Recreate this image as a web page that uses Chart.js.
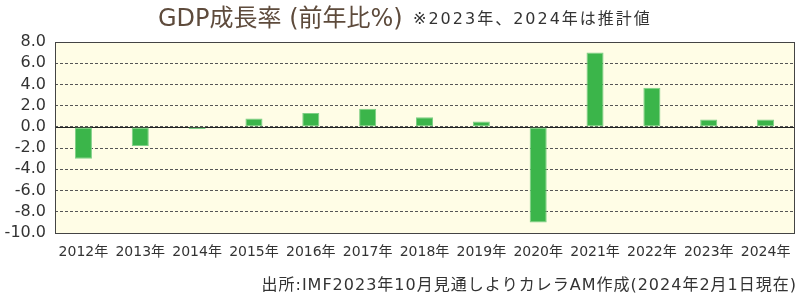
<!DOCTYPE html>
<html>
<head>
<meta charset="utf-8">
<script src="https://cdn.jsdelivr.net/npm/chart.js@4"></script>
<style>
  html, body { margin: 0; padding: 0; background: #fff; }
  #wrap { width: 800px; height: 298px; position: relative; }
</style>
</head>
<body>
<div id="wrap"><canvas id="gdpChart" width="800" height="298"></canvas></div>
<script>
// Data
const years = ['2012年', '2013年', '2014年', '2015年', '2016年', '2017年', '2018年',
               '2019年', '2020年', '2021年', '2022年', '2023年', '2024年'];
const growth = [-3.0, -1.8, -0.2, 0.8, 1.3, 1.7, 0.9, 0.5, -9.0, 7.0, 3.7, 0.7, 0.7];
const yMin = -10;
const yMax = 8;
const yStep = 2;

const titleText = 'GDP成長率 (前年比%)';
const noteText = '※2023年、2024年は推計値';
const sourceText = '出所:IMF2023年10月見通しよりカレラAM作成(2024年2月1日現在)';

// Latin glyphs from DejaVu (wide, like the original), kana/kanji from Noto CJK
const FONT = '"DejaVu Sans", "Noto Sans CJK JP", sans-serif';

// Background, zero line, frame and texts
const decorPlugin = {
    id: 'decor',
    beforeDraw(chart) {
        const { ctx, chartArea: a } = chart;
        ctx.save();
        ctx.fillStyle = '#fffde6';
        ctx.fillRect(a.left, a.top, a.right - a.left, a.bottom - a.top);
        ctx.restore();
    },
    beforeDatasetsDraw(chart) {
        const { ctx, chartArea: a } = chart;
        const y0 = chart.scales.y.getPixelForValue(0);
        ctx.save();
        ctx.strokeStyle = '#222';
        ctx.lineWidth = 1;
        ctx.beginPath();
        ctx.moveTo(a.left, Math.round(y0) + 0.5);
        ctx.lineTo(a.right, Math.round(y0) + 0.5);
        ctx.stroke();
        ctx.restore();
    },
    afterDraw(chart) {
        const { ctx, chartArea: a } = chart;
        ctx.save();
        ctx.strokeStyle = '#444';
        ctx.lineWidth = 1;
        ctx.strokeRect(Math.round(a.left) + 0.5, Math.round(a.top) + 0.5,
                       Math.round(a.right - a.left), Math.round(a.bottom - a.top));

        ctx.textBaseline = 'alphabetic';
        ctx.textAlign = 'left';
        ctx.fillStyle = '#5e4b3c';
        ctx.font = '24px ' + FONT;
        ctx.letterSpacing = '0px';
        ctx.fillText(titleText, 158, 26);
        ctx.fillStyle = '#333';
        ctx.font = '16px ' + FONT;
        ctx.letterSpacing = '2px';
        ctx.fillText(noteText, 413, 24);

        ctx.font = '16px ' + FONT;
        ctx.letterSpacing = '1px';
        const w = ctx.measureText(sourceText).width;
        ctx.fillText(sourceText, 797 - w, 290);
        ctx.restore();
    }
};

const ctx = document.getElementById('gdpChart').getContext('2d');
const gdpChart = new Chart(ctx, {
    type: 'bar',
    data: {
        labels: years,
        datasets: [{
            data: growth,
            backgroundColor: '#3bb54a',
            borderColor: '#7fcf85',
            borderWidth: 1,
            borderSkipped: false,
            barPercentage: 0.3,
            categoryPercentage: 1.0
        }]
    },
    options: {
        responsive: false,
        animation: false,
        layout: { padding: { top: 42, right: 6, left: 0, bottom: 0 } },
        plugins: {
            legend: { display: false },
            tooltip: { enabled: false }
        },
        scales: {
            x: {
                grid: { display: false },
                border: { display: false },
                ticks: {
                    color: '#333',
                    font: { family: FONT, size: 14 },
                    padding: 3,
                    maxRotation: 0,
                    autoSkip: false
                },
                afterFit(scale) { scale.height = 65; }
            },
            y: {
                min: yMin,
                max: yMax,
                grid: {
                    color: '#555',
                    lineWidth: 1,
                    drawTicks: false
                },
                border: { display: false, dash: [3, 2] },
                ticks: {
                    stepSize: yStep,
                    autoSkip: false,
                    color: '#333',
                    font: { family: FONT, size: 16 },
                    padding: 9,
                    callback: v => v.toFixed(1)
                },
                afterFit(scale) { scale.width = 55; }
            }
        }
    },
    plugins: [decorPlugin]
});
</script>
</body>
</html>
